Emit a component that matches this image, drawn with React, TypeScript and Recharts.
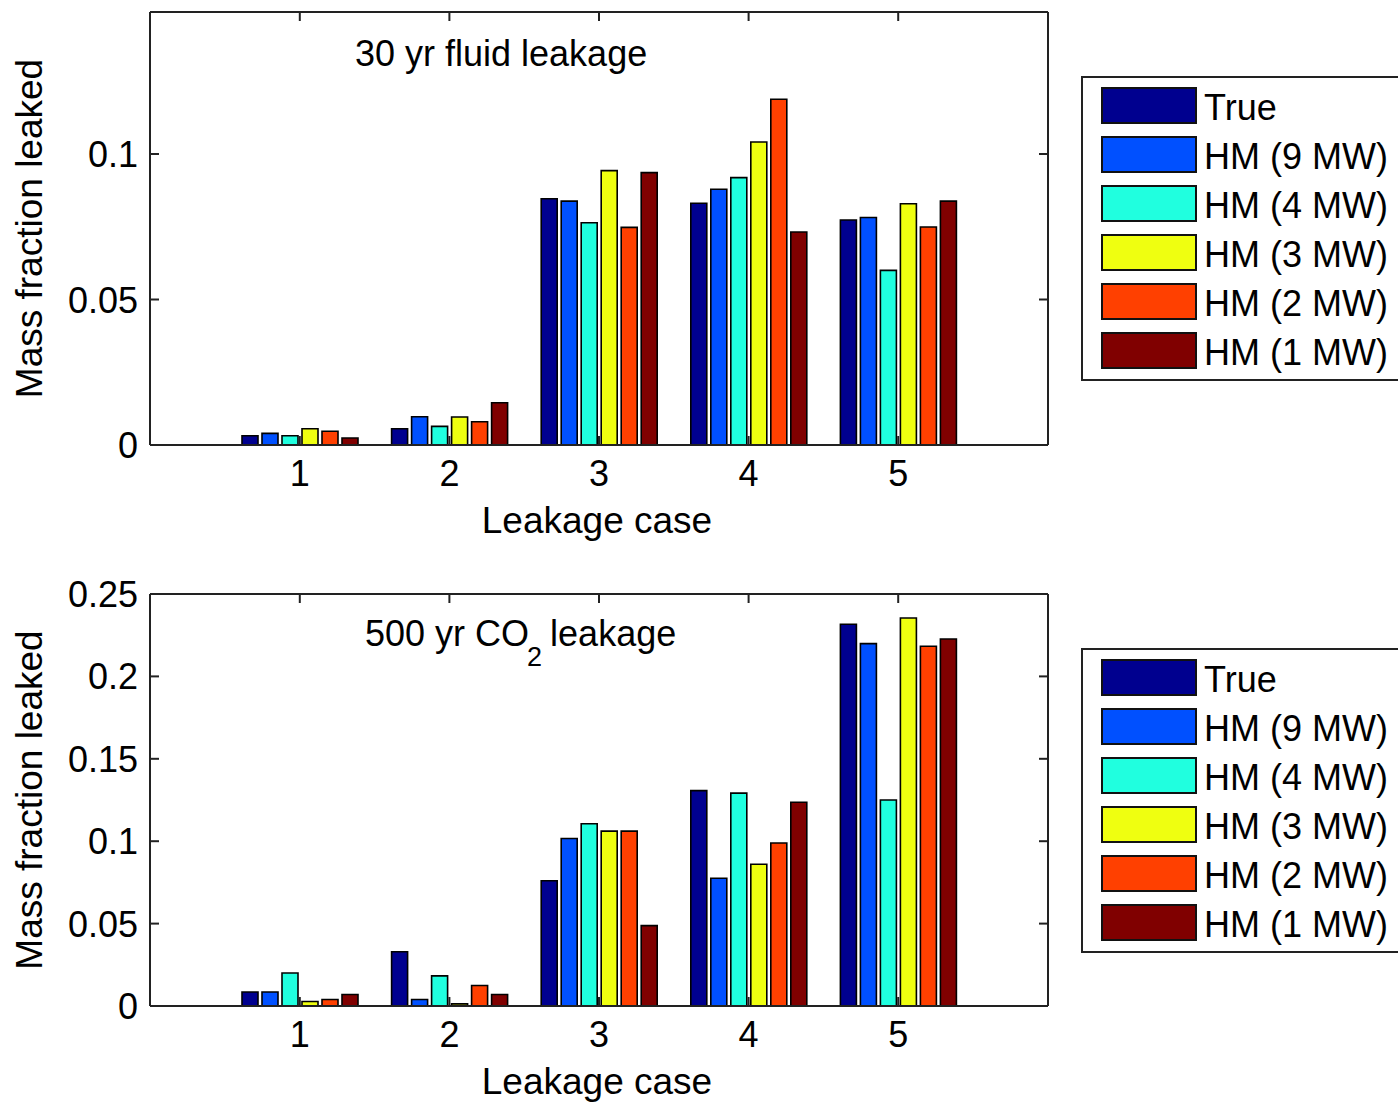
import { Bar, BarChart, Label, XAxis, YAxis } from "recharts";

const FONT = "'Liberation Sans', Arial, Helvetica, sans-serif";
const AXIS = "#222";

const cases = ["1", "2", "3", "4", "5"];
const seriesKeys = ["trueVal", "hm9", "hm4", "hm3", "hm2", "hm1"];
const seriesNames = ["True", "HM (9 MW)", "HM (4 MW)", "HM (3 MW)", "HM (2 MW)", "HM (1 MW)"];
const seriesColors = ["#00008f", "#0050ff", "#20ffdf", "#efff10", "#ff4000", "#800000"];

// 30 yr fluid leakage
const fluidTrue = [0.0032, 0.0056, 0.0846, 0.0831, 0.0773];
const fluidHm9 = [0.004, 0.0097, 0.0838, 0.0879, 0.0782];
const fluidHm4 = [0.0032, 0.0064, 0.0764, 0.0919, 0.06];
const fluidHm3 = [0.0056, 0.0096, 0.0943, 0.1041, 0.0829];
const fluidHm2 = [0.0047, 0.008, 0.0748, 0.1188, 0.0749];
const fluidHm1 = [0.0024, 0.0145, 0.0936, 0.0732, 0.0838];

// 500 yr CO2 leakage
const co2True = [0.0085, 0.0329, 0.076, 0.1307, 0.2316];
const co2Hm9 = [0.0085, 0.0039, 0.1016, 0.0775, 0.2199];
const co2Hm4 = [0.02, 0.0183, 0.1106, 0.1292, 0.125];
const co2Hm3 = [0.0027, 0.0013, 0.1061, 0.086, 0.2354];
const co2Hm2 = [0.0039, 0.0124, 0.1061, 0.0989, 0.2183];
const co2Hm1 = [0.007, 0.007, 0.0488, 0.1236, 0.2227];

const fluidTicks = [0, 0.05, 0.1];
const co2Ticks = [0, 0.05, 0.1, 0.15, 0.2, 0.25];

const buildRows = (series: number[][]) =>
  cases.map((c, i) => {
    const row: any = { name: c };
    seriesKeys.forEach((k, j) => (row[k] = series[j][i]));
    return row;
  });

const fluidData = buildRows([fluidTrue, fluidHm9, fluidHm4, fluidHm3, fluidHm2, fluidHm1]);
const co2Data = buildRows([co2True, co2Hm9, co2Hm4, co2Hm3, co2Hm2, co2Hm1]);

const txt = { fontFamily: FONT, fontSize: 36, fill: "#000" };

const BottomTick = (props: any) => {
  const { x, y, payload } = props;
  return (
    <g>
      <line x1={x} y1={y} x2={x} y2={y - 9} stroke={AXIS} strokeWidth={2} />
      <text x={x} y={y + 41} textAnchor="middle" {...txt}>
        {payload.value}
      </text>
    </g>
  );
};

const TopTick = (props: any) => {
  const { x, y } = props;
  return <line x1={x} y1={y} x2={x} y2={y + 9} stroke={AXIS} strokeWidth={2} />;
};

const LeftTick = (props: any) => {
  const { x, y, payload } = props;
  return (
    <g>
      <line x1={x} y1={y} x2={x + 9} y2={y} stroke={AXIS} strokeWidth={2} />
      <text x={x - 12} y={y + 13} textAnchor="end" {...txt}>
        {String(payload.value)}
      </text>
    </g>
  );
};

const RightTick = (props: any) => {
  const { x, y } = props;
  return <line x1={x} y1={y} x2={x - 9} y2={y} stroke={AXIS} strokeWidth={2} />;
};

const xTitle = (props: any) => {
  const vb = props.viewBox || {};
  return (
    <text x={vb.x + vb.width / 2 - 2} y={vb.y + 88} textAnchor="middle" {...txt} fontSize={37}>
      Leakage case
    </text>
  );
};

const yTitle = (props: any) => {
  const vb = props.viewBox || {};
  const cy = vb.y + vb.height / 2;
  return (
    <text x={42} y={cy} transform={`rotate(-90 42 ${cy})`} textAnchor="middle" {...txt} fontSize={37}>
      Mass fraction leaked
    </text>
  );
};

const fluidNote = (props: any) => {
  const vb = props.viewBox || {};
  return (
    <text x={vb.x + 205} y={vb.y + vb.height + 54} {...txt}>
      30 yr fluid leakage
    </text>
  );
};

const co2Note = (props: any) => {
  const vb = props.viewBox || {};
  return (
    <text x={vb.x + 215} y={vb.y + vb.height + 52} {...txt}>
      <tspan>500 yr CO</tspan>
      <tspan dx={-2} dy={20} fontSize={27}>2</tspan>
      <tspan dx={8} dy={-20}>leakage</tspan>
    </text>
  );
};

const LegendBox = ({ top }: { top: number }) => (
  <div
    style={{
      position: "absolute",
      left: 1081,
      top,
      width: 340,
      height: 305,
      border: `2px solid ${AXIS}`,
      boxSizing: "border-box",
      background: "#fff",
    }}
  >
    {seriesNames.map((n, i) => (
      <div key={n} style={{ position: "absolute", left: 18, top: 9 + i * 49, height: 37, display: "flex", alignItems: "center" }}>
        <div
          style={{
            width: 96,
            height: 37,
            boxSizing: "border-box",
            border: "2px solid #111",
            background: seriesColors[i],
          }}
        />
        <span
          style={{
            marginLeft: 7,
            marginTop: 4,
            fontFamily: FONT,
            fontSize: 36,
            lineHeight: "37px",
            color: "#000",
            whiteSpace: "nowrap",
          }}
        >
          {n}
        </span>
      </div>
    ))}
  </div>
);

function LeakChart({
  data,
  domainMax,
  ticks,
  height,
  topH,
  xHeight,
  note,
}: {
  data: any[];
  domainMax: number;
  ticks: number[];
  height: number;
  topH: number;
  xHeight: number;
  note: any;
}) {
  return (
    <BarChart width={1398} height={height} data={data} margin={{ top: 0, right: 0, bottom: 0, left: 0 }} barGap={4}>
      <XAxis
        dataKey="name"
        height={xHeight}
        padding={{ left: 75, right: 75 }}
        stroke={AXIS}
        strokeWidth={2}
        tickSize={0}
        tickMargin={0}
        tickLine={false}
        tick={BottomTick}
        interval={0}
      >
        <Label content={xTitle} />
      </XAxis>
      <XAxis
        xAxisId="top"
        orientation="top"
        dataKey="name"
        height={topH}
        padding={{ left: 75, right: 75 }}
        stroke={AXIS}
        strokeWidth={2}
        tickSize={0}
        tickMargin={0}
        tickLine={false}
        tick={TopTick}
        interval={0}
      >
        <Label content={note} />
      </XAxis>
      <YAxis
        type="number"
        width={150}
        domain={[0, domainMax]}
        ticks={ticks}
        allowDataOverflow
        stroke={AXIS}
        strokeWidth={2}
        tickSize={0}
        tickMargin={0}
        tickLine={false}
        tick={LeftTick}
        interval={0}
      >
        <Label content={yTitle} />
      </YAxis>
      <YAxis
        yAxisId="right"
        orientation="right"
        type="number"
        width={350}
        domain={[0, domainMax]}
        ticks={ticks}
        allowDataOverflow
        stroke={AXIS}
        strokeWidth={2}
        tickSize={0}
        tickMargin={0}
        tickLine={false}
        tick={RightTick}
        interval={0}
      />
      {seriesKeys.map((k, i) => (
        <Bar
          key={k}
          dataKey={k}
          name={seriesNames[i]}
          fill={seriesColors[i]}
          stroke="#000"
          strokeWidth={1.6}
          barSize={16}
          isAnimationActive={false}
        />
      ))}
    </BarChart>
  );
}

export default function App() {
  return (
    <div
      style={{
        position: "absolute",
        left: 0,
        top: 0,
        width: 1398,
        height: 1103,
        overflow: "hidden",
        background: "#fff",
      }}
    >
      <div style={{ position: "absolute", left: 0, top: 0 }}>
        <LeakChart data={fluidData} domainMax={0.1488} ticks={fluidTicks} height={560} topH={12} xHeight={115} note={fluidNote} />
      </div>
      <div style={{ position: "absolute", left: 0, top: 560 }}>
        <LeakChart data={co2Data} domainMax={0.25} ticks={co2Ticks} height={543} topH={34} xHeight={97} note={co2Note} />
      </div>
      <LegendBox top={76} />
      <LegendBox top={648} />
    </div>
  );
}
